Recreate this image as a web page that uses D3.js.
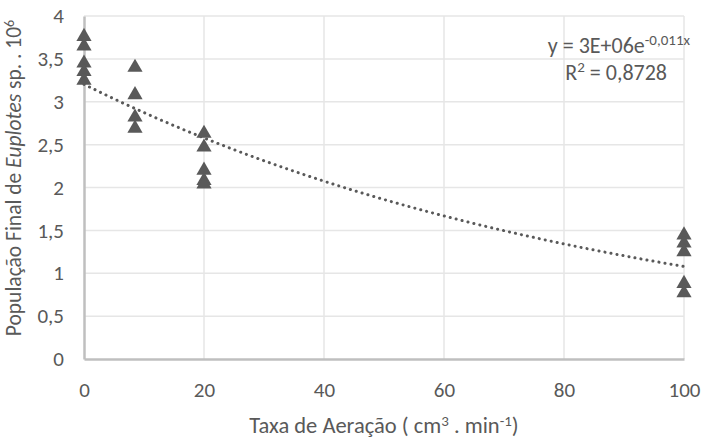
<!DOCTYPE html>
<html>
<head>
<meta charset="utf-8">
<script src="https://cdn.jsdelivr.net/npm/d3@7"></script>
<style>
  body { margin: 0; background: #fff; }
  text { font-family: Carlito, "Open Sans", sans-serif; fill: #595959; }
</style>
</head>
<body>
<div id="chart"></div>
<script>
// aeration rate (x) and final population (y, x10^6)
var xVals = [0, 0, 0, 0, 0,
             8.5, 8.5, 8.5, 8.5,
             20, 20, 20, 20, 20,
             100, 100, 100, 100, 100];
var yVals = [3.76, 3.65, 3.45, 3.35, 3.25,
             3.40, 3.08, 2.82, 2.69,
             2.63, 2.47, 2.20, 2.08, 2.04,
             1.445, 1.35, 1.25, 0.88, 0.77];
var xTicks = [0, 20, 40, 60, 80, 100];
var yTicks = [0, 0.5, 1, 1.5, 2, 2.5, 3, 3.5, 4];

var width = 707, height = 443;
var margin = {top: 16, right: 23, bottom: 84, left: 84};

var svg = d3.select('#chart').append('svg')
  .attr('width', width)
  .attr('height', height);

var x = d3.scaleLinear().domain([0, 100]).range([margin.left, width - margin.right]);
var y = d3.scaleLinear().domain([0, 4]).range([height - margin.bottom, margin.top]);

var fmt = function (d) { return String(d).replace('.', ','); };

// grid
svg.append('g').selectAll('line.hg')
  .data(yTicks.filter(function (d) { return d > 0; }))
  .enter().append('line')
  .attr('x1', x(0)).attr('x2', x(100))
  .attr('y1', function (d) { return y(d); })
  .attr('y2', function (d) { return y(d); })
  .attr('stroke', '#e6e6e6').attr('stroke-width', 1.5);

svg.append('g').selectAll('line.vg')
  .data(xTicks.filter(function (d) { return d > 0; }))
  .enter().append('line')
  .attr('x1', function (d) { return x(d); })
  .attr('x2', function (d) { return x(d); })
  .attr('y1', y(0)).attr('y2', y(4))
  .attr('stroke', '#e6e6e6').attr('stroke-width', 1.5);

// axes
var xAxis = svg.append('g')
  .attr('transform', 'translate(0,' + y(0) + ')')
  .call(d3.axisBottom(x).tickValues(xTicks).tickSize(0).tickPadding(23).tickFormat(fmt));
xAxis.select('.domain').attr('stroke', '#bfbfbf').attr('stroke-width', 2.5);
xAxis.selectAll('text').style('font-size', '21px').attr('fill', '#595959');

var yAxis = svg.append('g')
  .attr('transform', 'translate(' + x(0) + ',0)')
  .call(d3.axisLeft(y).tickValues(yTicks).tickSize(0).tickPadding(20).tickFormat(fmt));
yAxis.select('.domain').attr('stroke', '#bfbfbf').attr('stroke-width', 2.5);
yAxis.selectAll('text').style('font-size', '21px').attr('fill', '#595959');

// exponential trend line (least squares on ln y)
var lnY = yVals.map(Math.log);
var mx = d3.mean(xVals), my = d3.mean(lnY);
var sxy = d3.sum(xVals, function (d, i) { return (d - mx) * (lnY[i] - my); });
var sxx = d3.sum(xVals, function (d) { return (d - mx) * (d - mx); });
var b = sxy / sxx, a = Math.exp(my - b * mx);

var trend = d3.range(0, 100.5, 1).map(function (t) { return [t, a * Math.exp(b * t)]; });
svg.append('path')
  .datum(trend)
  .attr('fill', 'none')
  .attr('stroke', '#595959')
  .attr('stroke-width', 3)
  .attr('stroke-linecap', 'round')
  .attr('stroke-dasharray', '0.1,6')
  .attr('d', d3.line().x(function (d) { return x(d[0]); }).y(function (d) { return y(d[1]); }));

// points
svg.append('g').selectAll('path.pt')
  .data(xVals)
  .enter().append('path')
  .attr('transform', function (d, i) { return 'translate(' + x(d) + ',' + y(yVals[i]) + ')'; })
  .attr('d', d3.symbol().type(d3.symbolTriangle).size(100))
  .attr('fill', '#595959');

// equation labels
var eq = svg.append('text')
  .attr('x', 690).attr('y', 53)
  .attr('text-anchor', 'end')
  .style('font-size', '22px');
eq.append('tspan').text('y = 3E+06e');
eq.append('tspan').attr('dy', -8).style('font-size', '15px').text('-0,011x');

var r2 = svg.append('text')
  .attr('x', 667).attr('y', 80)
  .attr('text-anchor', 'end')
  .style('font-size', '22px');
r2.append('tspan').text('R');
r2.append('tspan').attr('dy', -8).style('font-size', '15px').text('2');
r2.append('tspan').attr('dy', 8).text(' = 0,8728');

// x title
var xt = svg.append('text')
  .attr('x', (x(0) + x(100)) / 2).attr('y', 433)
  .attr('text-anchor', 'middle')
  .style('font-size', '22.5px');
xt.append('tspan').text('Taxa de Aeração ( cm');
xt.append('tspan').attr('dy', -7).style('font-size', '15px').text('3');
xt.append('tspan').attr('dy', 7).text(' . min');
xt.append('tspan').attr('dy', -7).style('font-size', '15px').text('-1');
xt.append('tspan').attr('dy', 7).text(')');

// y title
var yt = svg.append('text')
  .attr('transform', 'translate(21,178) rotate(-90)')
  .attr('text-anchor', 'middle')
  .style('font-size', '21.5px');
yt.append('tspan').text('População Final de ');
yt.append('tspan').style('font-style', 'italic').text('Euplotes');
yt.append('tspan').text(' sp. . 10');
yt.append('tspan').attr('dy', -7).style('font-size', '14px').text('6');
</script>
</body>
</html>
